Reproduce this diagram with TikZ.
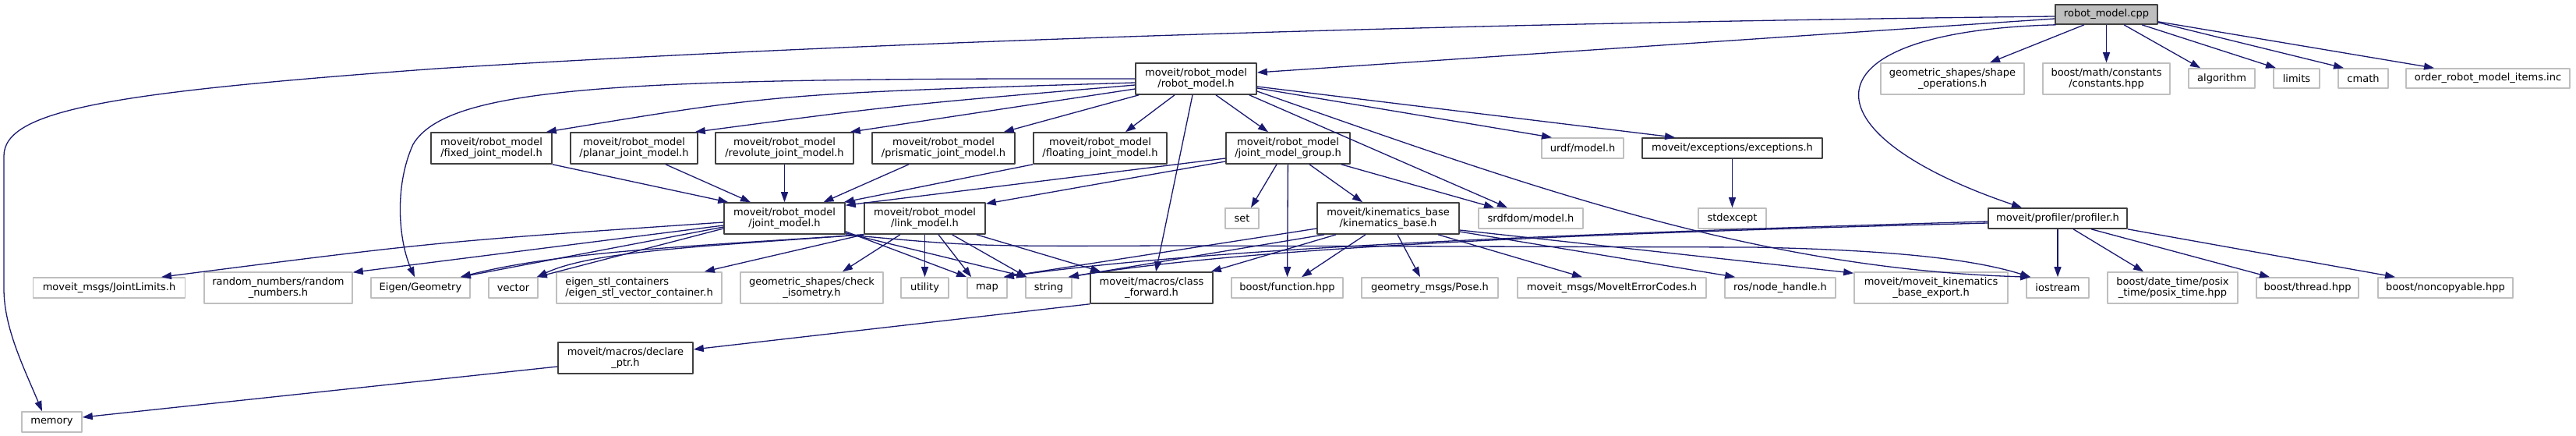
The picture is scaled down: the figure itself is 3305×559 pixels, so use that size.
\documentclass[tikz,border=0pt]{standalone}
\usepackage{fontspec}
\setmainfont{DejaVu Sans}
\usetikzlibrary{calc, arrows.meta}
\definecolor{lien}{HTML}{191970}
\definecolor{bordfonce}{HTML}{404040}
\definecolor{bordclair}{HTML}{BFBFBF}
\definecolor{fondgris}{HTML}{BFBFBF}
\tikzset{
  fichier/.style={draw=bordfonce, line width=1.6pt, fill=white, text=black, inner sep=0pt,
    align=center, font=\fontsize{13}{14.3}\selectfont},
  externe/.style={fichier, draw=bordclair},
  principal/.style={fichier, fill=fondgris},
  inclut/.style={draw=lien, line width=1.3pt, -{Triangle[length=13pt,width=9pt]}},
}
\begin{document}
\begin{tikzpicture}[x=1pt, y=-1pt, line join=round]
  \useasboundingbox (0,0) rectangle (3305,559);
  % Fichier source
  \node[principal, minimum width=131, minimum height=25] (cpp) at (2702.5,18.5) {robot\_model.cpp};
  % Rangée 1
  \node[fichier, minimum width=155, minimum height=40] (rm) at (1534.5,101) {moveit/robot\_model\\/robot\_model.h};
  \node[externe, minimum width=184, minimum height=40] (shape) at (2505,101) {geometric\_shapes/shape\\\_operations.h};
  \node[externe, minimum width=163, minimum height=40] (bmath) at (2702.5,101) {boost/math/constants\\/constants.hpp};
  \foreach \nom/\cx/\w/\txt in {algo/2850.5/85/algorithm, limits/2946.5/59/limits,
      cmath/3032/64/cmath, order/3192/210/order\_robot\_model\_items.inc}
    \node[externe, minimum width=\w, minimum height=25] (\nom) at (\cx,100.5) {\txt};
  % Rangée 2
  \foreach \nom/\cx/\w in {fixed/630.5/155, planar/813.5/163, revolute/1006.5/177,
      prismatic/1210.5/183, floating/1411.5/171}
    \node[fichier, minimum width=\w, minimum height=40] (\nom) at (\cx,190) {moveit/robot\_model\\/\nom\_joint\_model.h};
  \node[fichier, minimum width=159, minimum height=40] (jmg) at (1652.5,190) {moveit/robot\_model\\/joint\_model\_group.h};
  \node[externe, minimum width=105, minimum height=26] (urdf) at (2030.5,190) {urdf/model.h};
  \node[fichier, minimum width=231, minimum height=26] (exc) at (2222.5,190) {moveit/exceptions/exceptions.h};
  % Rangée 3
  \node[fichier, minimum width=155, minimum height=40] (jm) at (1006.5,280) {moveit/robot\_model\\/joint\_model.h};
  \node[fichier, minimum width=155, minimum height=40] (link) at (1186.5,280) {moveit/robot\_model\\/link\_model.h};
  \node[externe, minimum width=43, minimum height=26] (set) at (1593.5,280) {set};
  \node[fichier, minimum width=182, minimum height=40] (kb) at (1781,280) {moveit/kinematics\_base\\/kinematics\_base.h};
  \node[externe, minimum width=134, minimum height=26] (srdf) at (1964,280) {srdfdom/model.h};
  \node[externe, minimum width=87, minimum height=26] (stdexc) at (2222.5,280) {stdexcept};
  \node[fichier, minimum width=178, minimum height=26] (prof) at (2640,280) {moveit/profiler/profiler.h};
  % Rangée 4
  \node[externe, minimum width=195, minimum height=26] (jlim) at (140,369) {moveit\_msgs/JointLimits.h};
  \node[externe, minimum width=190, minimum height=40] (rnd) at (357,369) {random\_numbers/random\\\_numbers.h};
  \node[externe, minimum width=127, minimum height=26] (eigen) at (539.5,369) {Eigen/Geometry};
  \node[externe, align=left, minimum width=212, minimum height=40] (estl) at (820,369) {eigen\_stl\_containers\\/eigen\_stl\_vector\_container.h};
  \node[externe, minimum width=183, minimum height=40] (check) at (1041.5,369) {geometric\_shapes/check\\\_isometry.h};
  \foreach \nom/\cx/\w in {vector/658.5/63, utility/1186.5/61, map/1266.5/51,
      string/1345.5/59, iostream/2640/80}
    \node[externe, minimum width=\w, minimum height=26] (\nom) at (\cx,369) {\nom};
  \node[fichier, minimum width=157, minimum height=40] (cfwd) at (1477.5,369) {moveit/macros/class\\\_forward.h};
  \node[externe, minimum width=143, minimum height=26] (func) at (1651.5,369) {boost/function.hpp};
  \node[externe, minimum width=175, minimum height=26] (pose) at (1834.5,369) {geometry\_msgs/Pose.h};
  \node[externe, minimum width=242, minimum height=26] (merr) at (2068,369) {moveit\_msgs/MoveItErrorCodes.h};
  \node[externe, minimum width=142, minimum height=26] (nh) at (2284,369) {ros/node\_handle.h};
  \node[externe, minimum width=197, minimum height=40] (kbe) at (2477.5,369) {moveit/moveit\_kinematics\\\_base\_export.h};
  \node[externe, minimum width=167, minimum height=40] (dtime) at (2787.5,369) {boost/date\_time/posix\\\_time/posix\_time.hpp};
  \node[externe, minimum width=131, minimum height=26] (thread) at (2960.5,369) {boost/thread.hpp};
  \node[externe, minimum width=173, minimum height=26] (noncopy) at (3137.5,369) {boost/noncopyable.hpp};
  % Rangées 5 et 6
  \node[fichier, minimum width=173, minimum height=40] (decl) at (802.5,459) {moveit/macros/declare\\\_ptr.h};
  \node[externe, minimum width=77, minimum height=26] (memory) at (66.5,541) {memory};

  % Inclusions de robot_model.cpp
  \draw[inclut] ($(cpp.west)+(0,2.5)$) .. controls (2000,28) and (1200,48) .. (560,88)
    .. controls (150,118) and (5,140) .. (5,200) -- (5,370)
    .. controls (5,420) and (30,470) .. ($(memory.north)+(-12.5,0)$);
  \draw[inclut] ($(cpp.west)+(0,5.5)$) -- ($(rm.east)+(0,-8)$);
  \draw[inclut] ($(cpp.south west)+(2,0)$) .. controls (2310,40) and (2310,170) .. ($(prof.north)+(-46,0)$);
  \draw[inclut] ($(cpp.south)+(-28.5,0)$) -- ($(shape.north)+(48,0)$);
  \draw[inclut] (cpp) -- (bmath);
  \draw[inclut] ($(cpp.south)+(22.5,0)$) -- ($(algo.north)+(-27.5,0)$);
  \draw[inclut] ($(cpp.south)+(45.5,0)$) -- ($(limits.north)+(-26.5,0)$);
  \draw[inclut] ($(cpp.south east)+(0,-3)$) -- ($(cmath.north)+(-25,0)$);
  \draw[inclut] ($(cpp.south east)+(0,-4)$) -- ($(order.north)+(-69,0)$);

  % Inclusions de robot_model.h
  \draw[inclut] ($(rm.west)+(0,5)$) .. controls (1000,120) .. ($(fixed.north east)+(-8,0)$);
  \draw[inclut] ($(rm.west)+(0,8)$) .. controls (1150,135) .. ($(planar.north east)+(-4,0)$);
  \draw[inclut] ($(rm.west)+(0,13)$) -- ($(revolute.north east)+(-5,0)$);
  \draw[inclut] ($(rm.south west)+(5,0)$) -- ($(prismatic.north east)+(-15,0)$);
  \draw[inclut] ($(rm.south)+(-27.5,0)$) -- ($(floating.north)+(32.5,0)$);
  \draw[inclut] ($(rm.south)+(25.5,0)$) -- ($(jmg.north)+(-25.5,0)$);
  \draw[inclut] (rm.west) .. controls (800,100) and (575,110) .. (530,185)
    .. controls (505,240) and (512,310) .. ($(eigen.north)+(-7.5,0)$);
  \draw[inclut] ($(rm.south)+(-4.5,0)$) -- ($(cfwd.north)+(5.5,0)$);
  \draw[inclut] ($(rm.east)+(0,12)$) -- ($(urdf.north)+(-39.5,0)$);
  \draw[inclut] ($(rm.east)+(0,10)$) -- ($(exc.north)+(-73.5,0)$);
  \draw[inclut] ($(rm.south east)+(-10,0)$) -- ($(srdf.north)+(-30,0)$);
  \draw[inclut] ($(rm.east)+(0,16)$) .. controls (1950,235) and (2250,345) .. ($(iostream.north west)+(6,0)$);

  % Modèles de joints
  \draw[inclut] (fixed.south east) -- ($(jm.north west)+(6,0)$);
  \draw[inclut] ($(planar.south)+(40.5,0)$) -- ($(jm.north)+(-43.5,0)$);
  \draw[inclut] (revolute) -- (jm);
  \draw[inclut] ($(prismatic.south)+(-44.5,0)$) -- ($(jm.north)+(50,0)$);
  \draw[inclut] (floating.south west) -- ($(jm.north east)+(-2,0)$);

  % Inclusions de joint_model_group.h
  \draw[inclut] ($(jmg.west)+(0,13)$) -- ($(jm.north east)+(0,4)$);
  \draw[inclut] ($(jmg.west)+(0,17)$) -- ($(link.north east)+(0,2)$);
  \draw[inclut] ($(jmg.south)+(-14.5,0)$) -- ($(set.north)+(11.5,0)$);
  \draw[inclut] (jmg) -- (func);
  \draw[inclut] ($(jmg.south)+(27.5,0)$) -- ($(kb.north)+(-33,0)$);
  \draw[inclut] ($(jmg.south east)+(-12,0)$) -- ($(srdf.north)+(-47,0)$);

  % Inclusions de joint_model.h
  \draw[inclut] ($(jm.west)+(0,5)$) .. controls (560,310) .. ($(jlim.north)+(67,0)$);
  \draw[inclut] ($(jm.west)+(0,9)$) -- ($(rnd.north east)+(0,1)$);
  \draw[inclut] ($(jm.west)+(0,11)$) -- ($(eigen.north east)+(-13,0)$);
  \draw[inclut] ($(jm.west)+(0,13)$) -- ($(vector.north east)+(-2,0)$);
  \draw[inclut] ($(jm.south east)+(0,-4)$) -- (map.north west);
  \draw[inclut] ($(jm.south east)+(0,-2)$) -- ($(string.north west)+(2,0)$);
  \draw[inclut] (jm.south east) .. controls (1250,316) .. (1500,315) -- (2250,317)
    .. controls (2450,321) and (2540,335) .. ($(iostream.north west)+(6,0)$);

  % Inclusions de link_model.h
  \draw[inclut] (link.south west) .. controls (900,315) and (720,322) .. ($(eigen.north east)+(-13,0)$);
  \draw[inclut] (link.south west) .. controls (900,316) and (760,322) .. ($(vector.north east)+(-2,0)$);
  \draw[inclut] (link.south west) -- ($(estl.north east)+(-23,0)$);
  \draw[inclut] ($(link.south)+(-31.5,0)$) -- ($(check.north)+(39.5,0)$);
  \draw[inclut] (link) -- (utility);
  \draw[inclut] ($(link.south)+(17.5,0)$) -- ($(map.north west)+(6,0)$);
  \draw[inclut] ($(link.south)+(35,0)$) -- ($(string.north west)+(2,0)$);
  \draw[inclut] ($(link.south east)+(-12,0)$) -- ($(cfwd.north west)+(14,0)$);

  % Inclusions de kinematics_base.h
  \draw[inclut] ($(kb.west)+(0,13)$) -- ($(map.north east)+(-5,0)$);
  \draw[inclut] ($(kb.south west)+(10,0)$) -- ($(string.north east)+(-5,0)$);
  \draw[inclut] ($(kb.south west)+(25,0)$) -- ($(cfwd.north east)+(-3,0)$);
  \draw[inclut] ($(kb.south)+(-29,0)$) -- ($(func.north)+(18.5,0)$);
  \draw[inclut] ($(kb.south)+(12,0)$) -- ($(pose.north)+(-12.5,0)$);
  \draw[inclut] ($(kb.south)+(64,0)$) -- ($(merr.north)+(-38,0)$);
  \draw[inclut] ($(kb.east)+(0,15)$) -- ($(kbe.north west)+(0,2)$);
  \draw[inclut] ($(kb.east)+(0,17)$) -- ($(nh.north west)+(14,0)$);

  % Inclusions de profiler.h
  \draw[inclut] ($(prof.west)+(0,4)$) .. controls (2000,300) and (1550,318) .. ($(map.north east)+(-5,0)$);
  \draw[inclut] ($(prof.west)+(0,6)$) .. controls (2000,300) and (1600,318) .. ($(string.north east)+(-5,0)$);
  \draw[inclut] (prof) -- (iostream);
  \draw[inclut] ($(prof.south)+(20,0)$) -- ($(dtime.north)+(-37.5,0)$);
  \draw[inclut] ($(prof.south)+(43,0)$) -- ($(thread.north)+(-48.5,0)$);
  \draw[inclut] (prof.south east) -- ($(noncopy.north)+(-64.5,0)$);

  % Autres inclusions
  \draw[inclut] (exc) -- (stdexc);
  \draw[inclut] (cfwd.south west) -- ($(decl.east)+(0,-11)$);
  \draw[inclut] ($(decl.west)+(0,11)$) -- ($(memory.east)+(0,-6)$);
\end{tikzpicture}
\end{document}
